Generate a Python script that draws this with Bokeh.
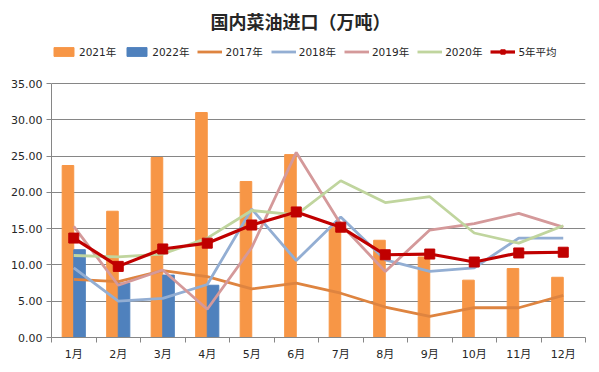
import numpy as np
from bokeh.plotting import figure
from bokeh.models import Legend, LegendItem, FixedTicker, Label
from bokeh.embed import file_html
from bokeh.resources import INLINE

months = ["1月", "2月", "3月", "4月", "5月", "6月", "7月", "8月", "9月", "10月", "11月", "12月"]
y2021 = [23.7, 17.4, 24.8, 31.0, 21.5, 25.2, 15.2, 13.4, 11.1, 7.9, 9.5, 8.3]
y2022 = [12.1, 7.5, 8.6, 7.2]
y2017 = [8.0, 7.7, 9.2, 8.4, 6.7, 7.5, 6.1, 4.2, 2.9, 4.1, 4.1, 5.8]
y2018 = [9.6, 5.0, 5.4, 7.3, 17.7, 10.6, 16.6, 10.7, 9.1, 9.6, 13.7, 13.7]
y2019 = [15.3, 7.2, 9.3, 3.9, 12.4, 25.5, 15.6, 9.1, 14.8, 15.7, 17.1, 15.2]
y2020 = [11.3, 11.1, 11.5, 13.7, 17.5, 16.9, 21.6, 18.6, 19.4, 14.4, 13.0, 15.4]
avg5 = [13.7, 9.8, 12.2, 13.0, 15.5, 17.3, 15.2, 11.4, 11.5, 10.4, 11.65, 11.75]
yticks = [0, 5, 10, 15, 20, 25, 30, 35]
series_names = ["2021年", "2022年", "2017年", "2018年", "2019年", "2020年", "5年平均"]
title_text = "国内菜油进口（万吨）"

C21, C22 = "#F79646", "#4F81BD"
C17, C18, C19, C20, CAVG = "#DE8440", "#93AED3", "#D4999A", "#C0D59E", "#C00000"

centers = np.arange(len(months)) + 0.5
FONT = "DejaVu Sans, Noto Sans CJK SC"
GRAY = "#868686"

W, H = 590, 364
BOTTOM, TOP_GAP = 27, 83            # frame spans to the top; y=35 sits 83px below the top
frame_h = H - BOTTOM
y_max = yticks[-1] * frame_h / (frame_h - TOP_GAP)

p = figure(width=W, height=H, x_range=(0, 12), y_range=(0, y_max),
           output_backend="svg", toolbar_location=None,
           min_border_left=51, min_border_right=5, min_border_top=0, min_border_bottom=BOTTOM)
p.outline_line_color = None

bw = 0.26
r21 = p.vbar(x=centers - bw / 2, top=y2021, width=bw, color=C21)
r22 = p.vbar(x=centers[:len(y2022)] + bw / 2, top=y2022, width=bw, color=C22)

lw = 2.8
l17 = p.line(centers, y2017, line_color=C17, line_width=lw)
l18 = p.line(centers, y2018, line_color=C18, line_width=lw)
l19 = p.line(centers, y2019, line_color=C19, line_width=lw)
l20 = p.line(centers, y2020, line_color=C20, line_width=lw)
la = p.line(centers, avg5, line_color=CAVG, line_width=3.2)
sa = p.scatter(centers, avg5, marker="square", size=10, fill_color=CAVG, line_color=CAVG)

p.xgrid.grid_line_color = None
p.ygrid.grid_line_color = GRAY
p.ygrid.ticker = FixedTicker(ticks=yticks)

p.yaxis.ticker = FixedTicker(ticks=yticks)
p.yaxis.bounds = (yticks[0], yticks[-1])
p.yaxis.major_label_overrides = {t: f"{t:.2f}" for t in yticks}
p.yaxis.axis_line_color = GRAY
p.yaxis.major_tick_line_color = GRAY
p.yaxis.major_tick_out = 5
p.yaxis.major_tick_in = 0
p.yaxis.minor_tick_line_color = None
p.yaxis.major_label_standoff = 4
p.yaxis.major_label_text_font = FONT
p.yaxis.major_label_text_font_size = "11px"
p.yaxis.major_label_text_color = "#262626"

p.xaxis.ticker = FixedTicker(ticks=list(centers), minor_ticks=list(range(13)))
p.xaxis.major_label_overrides = {float(c): m for c, m in zip(centers, months)}
p.xaxis.axis_line_color = GRAY
p.xaxis.major_tick_line_color = None
p.xaxis.major_tick_out = 0
p.xaxis.major_tick_in = 0
p.xaxis.minor_tick_line_color = GRAY
p.xaxis.minor_tick_out = 5
p.xaxis.minor_tick_in = 0
p.xaxis.major_label_standoff = 5
p.xaxis.major_label_text_font = FONT
p.xaxis.major_label_text_font_size = "11px"
p.xaxis.major_label_text_color = "#262626"

renders = [[r21], [r22], [l17], [l18], [l19], [l20], [la, sa]]
legend = Legend(items=[LegendItem(label=n, renderers=r) for n, r in zip(series_names, renders)],
                orientation="horizontal", location=(0, frame_h - 59))
legend.border_line_color = None
legend.background_fill_alpha = 0
legend.padding = 0
legend.margin = 0
legend.spacing = 8
legend.label_standoff = 3
legend.glyph_width = 25
legend.glyph_height = 11
legend.label_text_font = FONT
legend.label_text_font_size = "10.5px"
legend.label_height = 14
legend.label_text_color = "#262626"
p.add_layout(legend, "center")

p.add_layout(Label(x=300 - 51, y=frame_h - 20, x_units="screen", y_units="screen",
                   text=title_text, text_align="center", text_baseline="middle",
                   text_font="Noto Sans CJK SC", text_font_size="18px",
                   text_font_style="bold", text_color="#262626"))

open("out.html", "w").write(file_html(p, INLINE))
